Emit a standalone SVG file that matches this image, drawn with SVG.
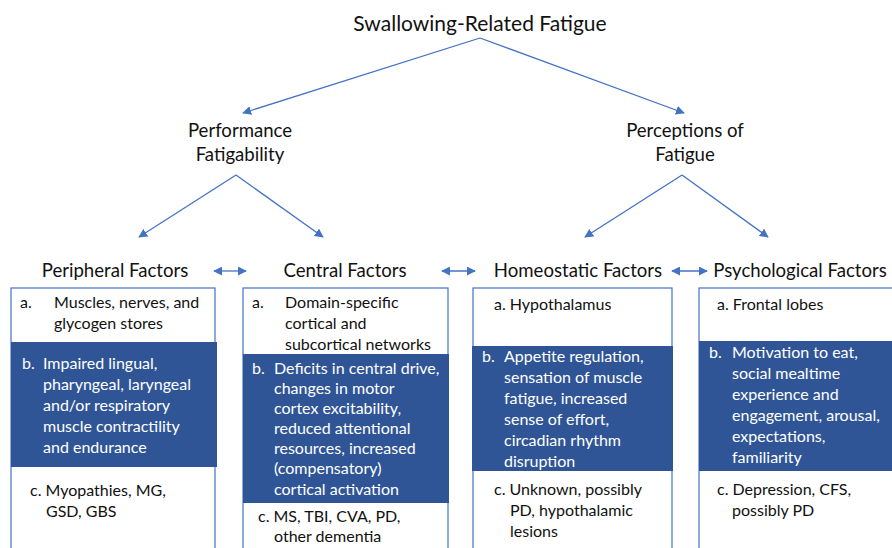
<svg xmlns="http://www.w3.org/2000/svg" width="892" height="548" viewBox="0 0 892 548">
<style>
text{font-family:Lato,"Open Sans","Liberation Sans",sans-serif;fill:#111}
.t{font-size:21px}
.h{font-size:18.6px;text-anchor:middle}
.m{font-size:18.6px;text-anchor:middle}
.s{font-size:16px}
.w{fill:#fff}
.box{fill:#fff;stroke:#4472C4;stroke-width:1.2}
.band{fill:#2F5597}
.c{stroke:#4472C4;stroke-width:1.3;fill:none}
</style>
<defs>
<marker id="ah" viewBox="0 0 10 10" refX="9" refY="5" markerWidth="9" markerHeight="9" markerUnits="userSpaceOnUse" orient="auto-start-reverse"><path d="M0,0L10,5L0,10z" fill="#4472C4"/></marker>
</defs>
<g id="connectors">
<line class="c" x1="480" y1="38" x2="243" y2="113" marker-end="url(#ah)"/>
<line class="c" x1="480" y1="38" x2="684" y2="113" marker-end="url(#ah)"/>
<line class="c" x1="236" y1="175" x2="139" y2="237" marker-end="url(#ah)"/>
<line class="c" x1="236" y1="175" x2="323" y2="237" marker-end="url(#ah)"/>
<line class="c" x1="682" y1="175" x2="585" y2="237" marker-end="url(#ah)"/>
<line class="c" x1="682" y1="175" x2="768" y2="237" marker-end="url(#ah)"/>
<line class="c" x1="214" y1="271" x2="246" y2="271" marker-start="url(#ah)" marker-end="url(#ah)"/>
<line class="c" x1="442" y1="271" x2="475" y2="271" marker-start="url(#ah)" marker-end="url(#ah)"/>
<line class="c" x1="672" y1="271" x2="707" y2="271" marker-start="url(#ah)" marker-end="url(#ah)"/>
</g>
<g id="title"><text class="t" x="480" y="31" text-anchor="middle">Swallowing-Related Fatigue</text></g>
<g id="performance"><text class="m" x="240" y="137">Performance</text><text class="m" x="240" y="161">Fatigability</text></g>
<g id="perceptions"><text class="m" x="685" y="137">Perceptions of</text><text class="m" x="685" y="161">Fatigue</text></g>
<g id="peripheral">
<text class="h" x="115" y="277">Peripheral Factors</text>
<rect class="box" x="11" y="288" width="204" height="300"/>
<rect class="band" x="11" y="342" width="206" height="125"/>
<text class="s" x="20" y="308">a.</text>
<text class="s" x="54" y="308">Muscles, nerves, and</text>
<text class="s" x="54" y="329">glycogen stores</text>
<text class="s w" x="22" y="369">b.</text>
<text class="s w" x="43" y="369">Impaired lingual,</text>
<text class="s w" x="43" y="390">pharyngeal, laryngeal</text>
<text class="s w" x="43" y="411">and/or respiratory</text>
<text class="s w" x="43" y="432">muscle contractility</text>
<text class="s w" x="43" y="453">and endurance</text>
<text class="s" x="30" y="496">c. Myopathies, MG,</text>
<text class="s" x="46" y="517">GSD, GBS</text>
</g>
<g id="central">
<text class="h" x="345" y="277">Central Factors</text>
<rect class="box" x="243" y="288" width="205" height="300"/>
<rect class="band" x="243" y="354" width="206" height="149"/>
<text class="s" x="252" y="308">a.</text>
<text class="s" x="285" y="308">Domain-specific</text>
<text class="s" x="285" y="329">cortical and</text>
<text class="s" x="285" y="350">subcortical networks</text>
<text class="s w" x="252" y="374">b.</text>
<text class="s w" x="274" y="374">Deficits in central drive,</text>
<text class="s w" x="274" y="394">changes in motor</text>
<text class="s w" x="274" y="414">cortex excitability,</text>
<text class="s w" x="274" y="434">reduced attentional</text>
<text class="s w" x="274" y="454">resources, increased</text>
<text class="s w" x="274" y="474">(compensatory)</text>
<text class="s w" x="274" y="495">cortical activation</text>
<text class="s" x="258" y="522">c. MS, TBI, CVA, PD,</text>
<text class="s" x="274" y="542">other dementia</text>
</g>
<g id="homeostatic">
<text class="h" x="578" y="277">Homeostatic Factors</text>
<rect class="box" x="473" y="288" width="199" height="300"/>
<rect class="band" x="472" y="346" width="201" height="125"/>
<text class="s" x="494" y="310">a. Hypothalamus</text>
<text class="s w" x="482" y="362">b.</text>
<text class="s w" x="504" y="362">Appetite regulation,</text>
<text class="s w" x="504" y="383">sensation of muscle</text>
<text class="s w" x="504" y="404">fatigue, increased</text>
<text class="s w" x="504" y="425">sense of effort,</text>
<text class="s w" x="504" y="446">circadian rhythm</text>
<text class="s w" x="504" y="467">disruption</text>
<text class="s" x="494" y="495">c. Unknown, possibly</text>
<text class="s" x="510" y="516">PD, hypothalamic</text>
<text class="s" x="510" y="537">lesions</text>
</g>
<g id="psychological">
<text class="h" x="800" y="277">Psychological Factors</text>
<rect class="box" x="699" y="288" width="220" height="300"/>
<rect class="band" x="699" y="341" width="220" height="130"/>
<text class="s" x="717" y="310">a. Frontal lobes</text>
<text class="s w" x="709" y="358">b.</text>
<text class="s w" x="732" y="358">Motivation to eat,</text>
<text class="s w" x="732" y="379">social mealtime</text>
<text class="s w" x="732" y="400">experience and</text>
<text class="s w" x="732" y="421">engagement, arousal,</text>
<text class="s w" x="732" y="442">expectations,</text>
<text class="s w" x="732" y="463">familiarity</text>
<text class="s" x="717" y="495">c. Depression, CFS,</text>
<text class="s" x="732" y="516">possibly PD</text>
</g>
</svg>
